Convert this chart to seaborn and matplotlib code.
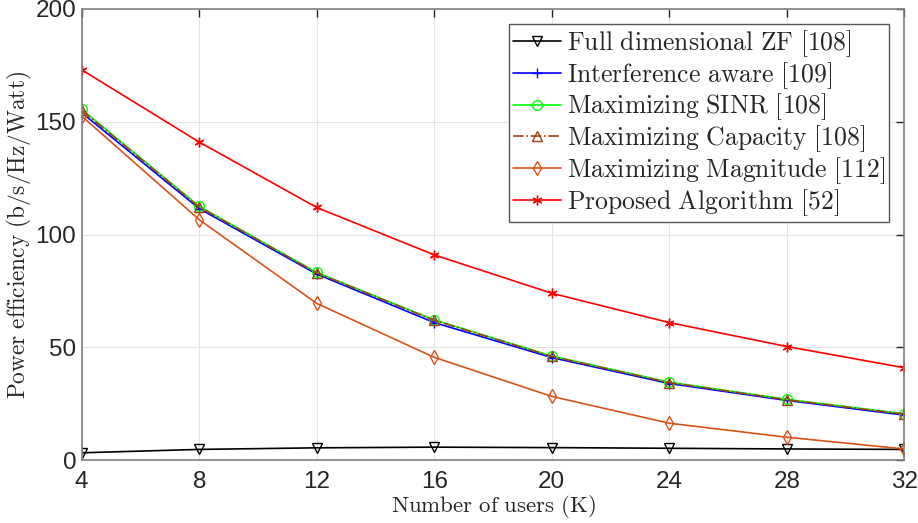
import numpy as np
import pandas as pd
import seaborn as sns
import matplotlib
matplotlib.use("Agg")
import matplotlib.pyplot as plt

# 数据
users = [4, 8, 12, 16, 20, 24, 28, 32]
zf = [3.3, 4.8, 5.5, 5.8, 5.6, 5.3, 5.0, 4.8]
interference = [154.0, 111.5, 82.5, 61.0, 45.5, 34.0, 26.5, 20.0]
sinr = [155.5, 112.5, 83.2, 62.2, 46.2, 34.6, 27.0, 20.6]
capacity = [155.0, 112.2, 83.0, 62.0, 46.0, 34.4, 26.8, 20.4]
magnitude = [152.5, 106.6, 69.5, 45.6, 28.3, 16.4, 10.2, 5.0]
proposed = [173.0, 141.0, 112.0, 91.0, 74.0, 61.0, 50.4, 41.0]

names = ["Full dimensional ZF [108]", "Interference aware [109]",
         "Maximizing SINR [108]", "Maximizing Capacity [108]",
         "Maximizing Magnitude [112]", "Proposed Algorithm [52]"]
series = [zf, interference, sinr, capacity, magnitude, proposed]
colors = ["black", "#0000FF", "#00FF00", "#A0400F", "#D95319", "#FF0000"]
markers = ["v", "+", "o", "^", "d", (6, 2, 0)]
styles = ["-", "-", "-", "-.", "-", "-"]

sns.set_style("whitegrid")
plt.rcParams["mathtext.fontset"] = "cm"
plt.rcParams["font.family"] = ["Liberation Sans", "DejaVu Sans"]

fig, ax = plt.subplots(figsize=(9.18, 5.23), dpi=100)
fig.subplots_adjust(left=0.089, right=0.985, top=0.983, bottom=0.12)

for name, vals, c, m, ls in zip(names, series, colors, markers, styles):
    df = pd.DataFrame({"K": users, "PE": vals})
    sns.lineplot(data=df, x="K", y="PE", ax=ax, color=c, marker=m,
                 linestyle=ls, linewidth=1.2, markersize=7,
                 markerfacecolor="none", markeredgecolor=c, markeredgewidth=1.0,
                 label=r"$\mathrm{" + name.replace(" ", r"\ ") + "}$")

ax.set_xlim(4, 32)
ax.set_ylim(0, 200)
ax.set_xticks(users)
ax.set_yticks([0, 50, 100, 150, 200])
ax.tick_params(axis="both", labelsize=17.5, colors="#262626", direction="in",
               length=6, width=1, top=True, right=True)
ax.tick_params(axis="x", pad=8)
ax.tick_params(axis="y", pad=4)
ax.grid(True, color="#e3e3e3", linewidth=0.8)
for s in ax.spines.values():
    s.set_visible(True)
    s.set_color("#7f7f7f")
    s.set_linewidth(1.2)

ax.set_xlabel(r"$\mathrm{Number\ of\ users\ (K)}$", fontsize=16.5, color="#262626", labelpad=0)
ax.set_ylabel(r"$\mathrm{Power\ efficiency\ (b/s/Hz/Watt)}$", fontsize=16.8, color="#262626", labelpad=1)

leg = ax.legend(loc="upper right", fontsize=18.5, frameon=True, fancybox=False,
                edgecolor="#555555", framealpha=1, borderpad=0.15, labelspacing=0.04,
                handlelength=1.9, handletextpad=0.2, borderaxespad=0.6)
leg.get_frame().set_linewidth(1.0)

fig.savefig("out.png", dpi=100)
